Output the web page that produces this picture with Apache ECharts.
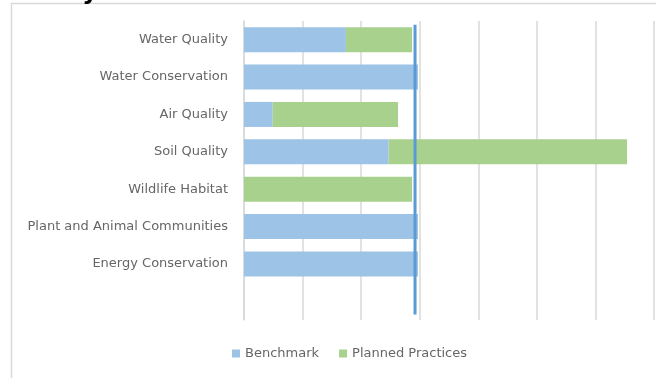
<!DOCTYPE html>
<html>
<head>
<meta charset="utf-8">
<script src="https://cdn.jsdelivr.net/npm/echarts@6/dist/echarts.min.js"></script>
<style>
  html, body { margin: 0; padding: 0; background: #fff; }
  #chart { width: 656px; height: 378px; }
</style>
</head>
<body>
<div id="chart"></div>
<script>
// categories top to bottom; the last slot is empty in the original
const categories = [
  'Water Quality', 'Water Conservation', 'Air Quality', 'Soil Quality',
  'Wildlife Habitat', 'Plant and Animal Communities', 'Energy Conservation', ''
]
const benchmark = [1.74, 2.97, 0.49, 2.47, 0, 2.97, 2.97, null]
const planned = [1.13, 0, 2.14, 4.07, 2.87, 0, 0, null]
// vertical target line (x value, from/to in category units)
const targetValue = 2.92
const targetSpan = [0.1, 7.85]

const chart = echarts.init(document.getElementById('chart'))

const labelFont = 'DejaVu Sans'

chart.setOption({
  animation: false,
  grid: { left: 244, top: 21, width: 410, height: 299, containLabel: false },
  graphic: [
    {
      type: 'rect',
      shape: { x: 11.5, y: 3.5, width: 700, height: 420 },
      style: { fill: 'none', stroke: '#d9d9d9', lineWidth: 1.5 },
      silent: true
    },
    {
      type: 'text',
      style: {
        text: 'Summary', x: 98, y: 5, align: 'right', verticalAlign: 'bottom',
        font: 'bold 24px ' + labelFont, fill: '#000'
      },
      silent: true
    }
  ],
  legend: {
    data: ['Benchmark', 'Planned Practices'],
    left: 227,
    top: 342,
    itemWidth: 8,
    itemHeight: 8,
    itemGap: 20,
    icon: 'rect',
    textStyle: { fontFamily: labelFont, fontSize: 13, color: '#666' }
  },
  xAxis: {
    type: 'value',
    min: 0,
    max: 7,
    interval: 1,
    axisLabel: { show: false },
    axisTick: { show: false },
    axisLine: { show: false },
    splitLine: { lineStyle: { color: '#d9d9d9', width: 1.5 } }
  },
  yAxis: [
    {
      type: 'category',
      data: categories,
      inverse: true,
      axisTick: { show: false },
      axisLine: { show: true, lineStyle: { color: '#d9d9d9', width: 1.5 } },
      axisLabel: { margin: 16, fontFamily: labelFont, fontSize: 13, color: '#666' }
    },
    {
      type: 'value',
      min: 0,
      max: 8,
      inverse: true,
      show: false
    }
  ],
  series: [
    {
      name: 'Benchmark',
      type: 'bar',
      stack: 'total',
      barWidth: 25,
      itemStyle: { color: '#9dc3e6' },
      data: benchmark
    },
    {
      name: 'Planned Practices',
      type: 'bar',
      stack: 'total',
      barWidth: 25,
      itemStyle: { color: '#a9d18e' },
      data: planned
    },
    {
      name: 'Target',
      type: 'line',
      yAxisIndex: 1,
      symbol: 'none',
      lineStyle: { color: '#5b9bd5', width: 3 },
      data: targetSpan.map(v => [targetValue, v]),
      z: 5
    }
  ]
})
</script>
</body>
</html>
